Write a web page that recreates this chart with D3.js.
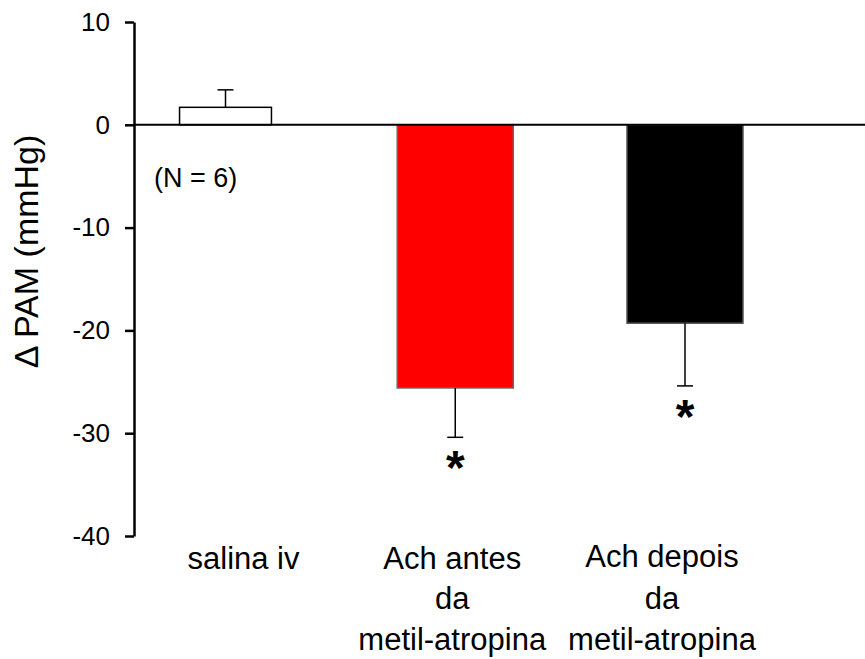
<!DOCTYPE html>
<html>
<head>
<meta charset="utf-8">
<script src="https://cdn.jsdelivr.net/npm/d3@7"></script>
<style>
  body { margin: 0; background: #fff; }
  svg { font-family: "Liberation Sans", Arial, sans-serif; }
  .axis path, .axis line { stroke: #000; }
</style>
</head>
<body>
<script>
(function (){

    //chart data
    var categories = ["salina iv", "Ach antes da metil-atropina", "Ach depois da metil-atropina"];
    var labelLines = [["salina iv"], ["Ach antes", "da", "metil-atropina"], ["Ach depois", "da", "metil-atropina"]];
    var means = [1.7, -25.6, -19.3];
    var errors = [1.7, 4.8, 6.1];     //SEM, drawn on the outer side only
    var significant = [false, true, true];
    var yTicks = [10, 0, -10, -20, -30, -40];
    var nLabel = "(N = 6)";

    //style per bar
    var fills = ["#ffffff", "#ff0000", "#000000"];
    var strokes = ["#000000", "#666666", "#555555"];
    var widthFactor = [0.40, 0.505, 0.505];
    var labelShift = [18, -3, -23];

    var width = 865, height = 659;

    var svg = d3.select("body")
        .append("svg")
        .attr("width", width)
        .attr("height", height);

    var axisX = 134;

    var y = d3.scaleLinear()
        .domain([-40, 10])
        .range([536, 22]);

    var x = d3.scalePoint()
        .domain(categories)
        .range([225.5, 685]);

    var step = x.step();

    //bars
    svg.selectAll(".bar")
        .data(categories)
        .enter()
        .append("rect")
        .attr("class", "bar")
        .attr("x", function(d, i){ return x(d) - step * widthFactor[i] / 2; })
        .attr("width", function(d, i){ return step * widthFactor[i]; })
        .attr("y", function(d, i){ return Math.min(y(means[i]), y(0)); })
        .attr("height", function(d, i){ return Math.abs(y(means[i]) - y(0)); })
        .style("fill", function(d, i){ return fills[i]; })
        .style("stroke", function(d, i){ return strokes[i]; })
        .style("stroke-width", 1.5);

    //error bars (one sided)
    var capHalf = 8;
    var err = svg.selectAll(".err")
        .data(categories)
        .enter()
        .append("g")
        .attr("class", "err");

    err.append("line")
        .attr("x1", function(d){ return x(d); })
        .attr("x2", function(d){ return x(d); })
        .attr("y1", function(d, i){ return y(means[i]); })
        .attr("y2", function(d, i){ return y(means[i] + Math.sign(means[i]) * errors[i]); })
        .style("stroke", "#000")
        .style("stroke-width", 1.5);

    err.append("line")
        .attr("x1", function(d){ return x(d) - capHalf; })
        .attr("x2", function(d){ return x(d) + capHalf; })
        .attr("y1", function(d, i){ return y(means[i] + Math.sign(means[i]) * errors[i]); })
        .attr("y2", function(d, i){ return y(means[i] + Math.sign(means[i]) * errors[i]); })
        .style("stroke", "#000")
        .style("stroke-width", 1.5);

    //asterisks
    svg.selectAll(".star")
        .data(categories.filter(function(d, i){ return significant[i]; }))
        .enter()
        .append("text")
        .attr("class", "star")
        .attr("x", function(d){ return x(d); })
        .attr("y", function(d){
            var i = categories.indexOf(d);
            return y(means[i] - errors[i]) + 47;
        })
        .attr("text-anchor", "middle")
        .style("font-size", "48px")
        .style("font-weight", "bold")
        .text("*");

    //zero line
    svg.append("line")
        .attr("x1", axisX)
        .attr("x2", width)
        .attr("y1", y(0))
        .attr("y2", y(0))
        .style("stroke", "#000")
        .style("stroke-width", 2);

    //y axis
    var yAxis = d3.axisLeft(y)
        .tickValues(yTicks)
        .tickFormat(function(d){ return String(d); })
        .tickSize(9)
        .tickSizeOuter(0)
        .tickPadding(15);

    var axis = svg.append("g")
        .attr("class", "axis")
        .attr("transform", "translate(" + axisX + ",0)")
        .call(yAxis);

    axis.select(".domain").style("stroke-width", 2.5);
    axis.selectAll(".tick line").style("stroke-width", 2.5);
    axis.selectAll(".tick text")
        .style("font-size", "26px")
        .style("font-family", "'Liberation Sans', Arial, sans-serif")
        .style("fill", "#000");

    //y axis title
    svg.append("text")
        .attr("transform", "translate(38," + 251.5 + ") rotate(-90)")
        .attr("text-anchor", "middle")
        .style("font-size", "34px")
        .text("\u0394 PAM (mmHg)");

    //N label
    svg.append("text")
        .attr("x", 154)
        .attr("y", 187)
        .style("font-size", "27px")
        .text(nLabel);

    //category labels
    var baselines = [569, 609, 650];
    var labels = svg.selectAll(".catLabel")
        .data(categories)
        .enter()
        .append("text")
        .attr("class", "catLabel")
        .attr("text-anchor", "middle")
        .style("font-size", "31px");

    labels.each(function(d, i){
        var t = d3.select(this);
        labelLines[i].forEach(function(line, j){
            t.append("tspan")
                .attr("x", x(d) + labelShift[i])
                .attr("y", baselines[j] - (i === 2 && j === 0 ? 2 : 0))
                .text(line);
        });
    });

})();
</script>
</body>
</html>
